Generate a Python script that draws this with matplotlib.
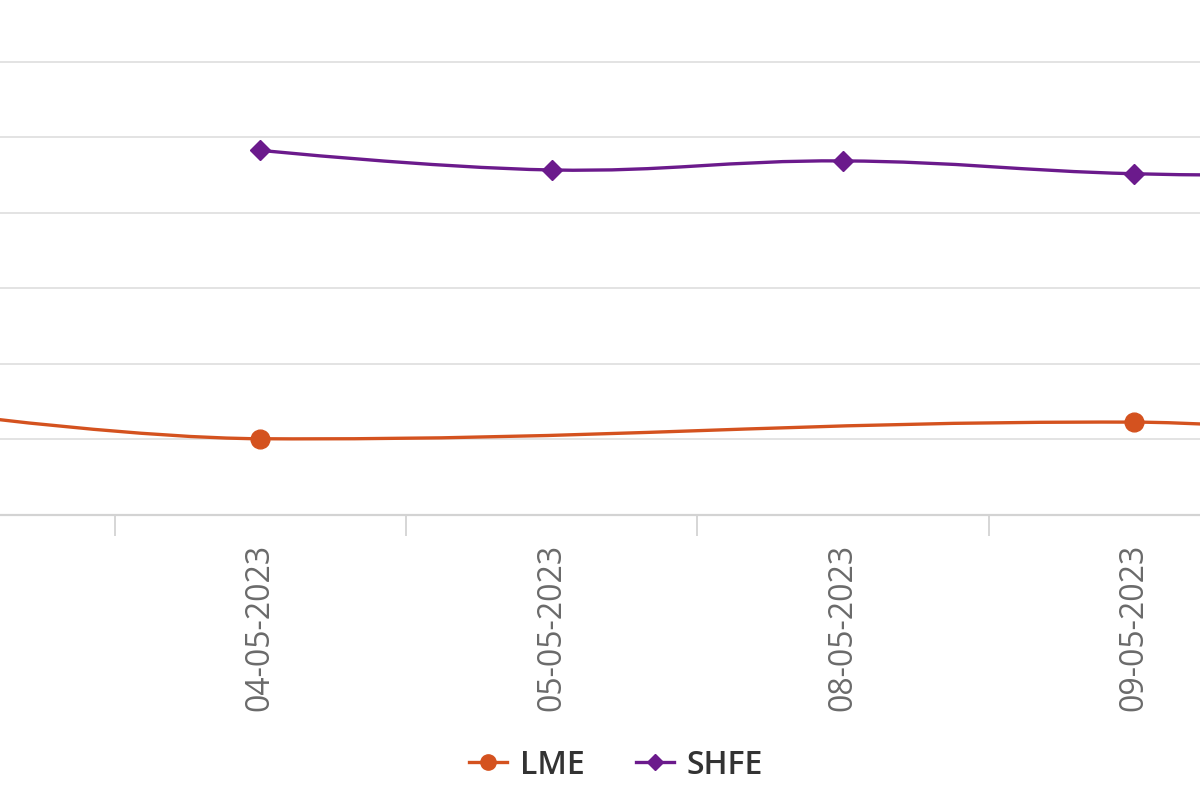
import matplotlib
matplotlib.use("Agg")
import matplotlib.pyplot as plt
from matplotlib.path import Path
from matplotlib.patches import PathPatch
from matplotlib.lines import Line2D
import numpy as np

dates = ['03-05-2023', '04-05-2023', '05-05-2023', '08-05-2023', '09-05-2023', '10-05-2023']
lme = [2331, 2301, None, None, 2323, 2296]
shfe = [None, 2683, 2657, 2669, 2652, 2650]

LME_COLOR = '#d4521f'
SHFE_COLOR = '#6b1a8c'


def spline_path(xs, ys, smoothing=1.5):
    # highcharts style spline through the given points
    denom = smoothing + 1
    n = len(xs)
    verts = [(xs[0], ys[0])]
    codes = [Path.MOVETO]
    conts = []
    for i in range(n):
        x, y = xs[i], ys[i]
        if 0 < i < n - 1:
            lx, ly = xs[i - 1], ys[i - 1]
            nx, ny = xs[i + 1], ys[i + 1]
            lcx = (smoothing * x + lx) / denom
            lcy = (smoothing * y + ly) / denom
            rcx = (smoothing * x + nx) / denom
            rcy = (smoothing * y + ny) / denom
            if rcx != lcx:
                corr = (rcy - lcy) * (rcx - x) / (rcx - lcx) + y - rcy
                lcy += corr
                rcy += corr
            conts.append(((lcx, lcy), (rcx, rcy)))
        else:
            conts.append(((x, y), (x, y)))
    for i in range(1, n):
        verts += [conts[i - 1][1], conts[i][0], (xs[i], ys[i])]
        codes += [Path.CURVE4] * 3
    return Path(verts, codes)


fig = plt.figure(figsize=(12, 8), dpi=100)
ax = fig.add_axes([0, 285 / 800, 1, 515 / 800])

for vals, color, marker, ms in [(lme, LME_COLOR, 'o', 13.5), (shfe, SHFE_COLOR, 'D', 10)]:
    xs = [i for i, v in enumerate(vals) if v is not None]
    ys = [v for v in vals if v is not None]
    ax.add_patch(PathPatch(spline_path(xs, ys), fill=False, edgecolor=color, lw=2.4, zorder=3))
    ax.plot(xs, ys, ls='none', marker=marker, ms=ms, color=color, zorder=4)

# grid
ax.set_yticks([2300, 2400, 2500, 2600, 2700, 2800])
ax.yaxis.grid(True, color='#e3e3e3', lw=1.4)
ax.tick_params(axis='y', length=0, labelleft=False)
for s in ['top', 'left', 'right']:
    ax.spines[s].set_visible(False)
ax.spines['bottom'].set_color('#d3d3d3')
ax.spines['bottom'].set_linewidth(1.6)

# tick marks between categories, labels on categories
ax.set_xticks(np.arange(len(dates) - 1) + 0.5)
ax.tick_params(axis='x', which='major', length=15, width=1.2, color='#cfcfcf', labelbottom=False)
ax.set_xticks(range(len(dates)), dates, minor=True)
ax.tick_params(axis='x', which='minor', length=0, pad=21, labelsize=23, labelcolor='#6a6a6a',
               labelrotation=90)
for lab in ax.get_xticklabels(minor=True):
    lab.set_fontfamily('Open Sans')

# the view is a crop of a wider chart
x0 = 31 / 291.3
ax.set_xlim(x0, x0 + 1200 / 291.3)
ax.set_ylim(2200, 2200 + 515 / 75.5 * 100)

handles = [
    Line2D([], [], color=LME_COLOR, lw=2.4, marker='o', ms=11),
    Line2D([], [], color=SHFE_COLOR, lw=2.4, marker='D', ms=8),
]
fig.legend(handles, ['LME', 'SHFE'], loc='center', bbox_to_anchor=(616 / 1200, 1 - 765 / 800),
           ncol=2, frameon=False, handlelength=1.2, handletextpad=0.4, columnspacing=1.6,
           prop={'family': 'Open Sans', 'size': 23, 'weight': 'semibold'}, labelcolor='#333333')

fig.savefig('out.png', dpi=100, facecolor='white')
